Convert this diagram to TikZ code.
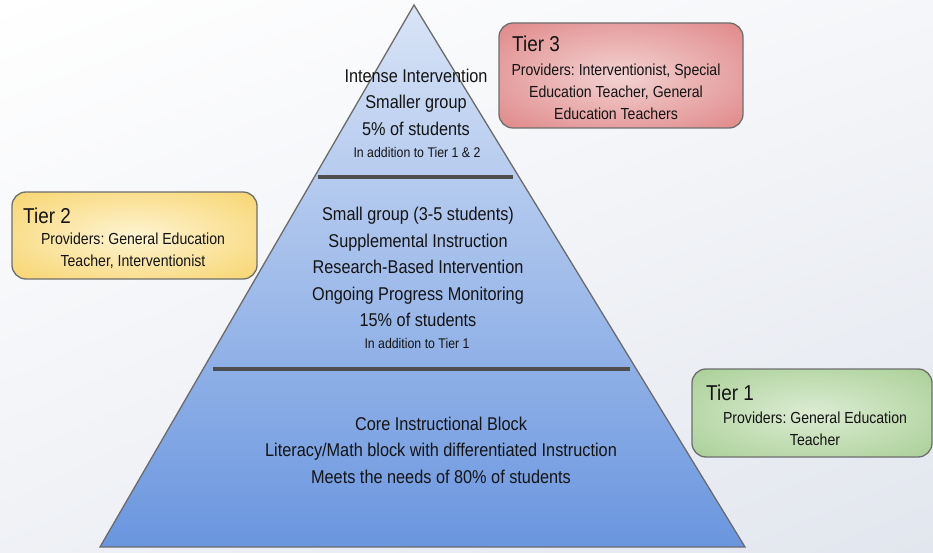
\documentclass[tikz,border=0pt]{standalone}
\usepackage{fontspec}
\setmainfont[FakeStretch=0.88]{Liberation Sans}
\usetikzlibrary{positioning,shadings}
\definecolor{txt}{HTML}{141414}
\definecolor{bgr}{HTML}{E2E6EE}
\definecolor{pyrtop}{HTML}{D9E4F6}
\definecolor{pyrbot}{HTML}{6A96DF}
\definecolor{pyrline}{HTML}{6B6B6B}
\definecolor{divline}{HTML}{4E4E4E}
\definecolor{boxline}{HTML}{6E6E6E}
\definecolor{redin}{HTML}{F3D2D2}
\definecolor{redout}{HTML}{D86A6B}
\definecolor{yelin}{HTML}{FEF4D2}
\definecolor{yelout}{HTML}{F5C848}
\definecolor{grnin}{HTML}{DCECD3}
\definecolor{grnout}{HTML}{95C47F}
\colorlet{glowin}{white}
\colorlet{glowout}{gray}
\pgfdeclareradialshading[glowin,glowout]{glow}{\pgfpointorigin}{color(0bp)=(glowin); color(50bp)=(glowout); color(100bp)=(glowout)}
\frenchspacing
\begin{document}
\begin{tikzpicture}[x=1pt, y=-1pt,
    tiertext/.style={font=\fontsize{18.5}{26.5}\selectfont, align=center, text=txt, inner sep=0pt},
    subtext/.style={font=\fontsize{14}{16}\selectfont, text=txt, inner sep=0pt},
    tierbox/.style 2 args={draw=boxline, line width=1.3pt, rounded corners=14pt, shade, shading=glow,
        /utils/exec={\colorlet{glowin}{#1}\colorlet{glowout}{#2}}, inner sep=0pt},
    boxtitle/.style={font=\fontsize{21.5}{24}\selectfont, text=txt, inner sep=0pt, anchor=base west},
    boxtext/.style={font=\fontsize{16}{22}\selectfont, align=center, text=txt, inner sep=0pt},
    divider/.style={draw=divline, line width=4pt},
]
    \shade[upper left=white, upper right=bgr!35, lower left=bgr!55, lower right=bgr] (0,0) rectangle (933,553);

    \shadedraw[top color=pyrtop, bottom color=pyrbot, draw=pyrline, line width=1.3pt] (414,5) -- (745,547) -- (100,547) -- cycle;
    \draw[divider] (318,177) -- (513,177);
    \draw[divider] (213,369) -- (630,369);

    \node[tiertext] (top) at (416,102) {Intense Intervention\\Smaller group\\5\% of students};
    \node[subtext] (topsub) at (417,152) {In addition to Tier 1 \& 2};
    \node[tiertext] (mid) at (418,267) {Small group (3-5 students)\\Supplemental Instruction\\Research-Based Intervention\\Ongoing Progress Monitoring\\15\% of students};
    \node[subtext] (midsub) at (417,343) {In addition to Tier 1};
    \node[tiertext] (base) at (441,450) {Core Instructional Block\\Literacy/Math block with differentiated Instruction\\Meets the needs of 80\% of students};

    \node[tierbox={redin}{redout}, minimum width=244pt, minimum height=105pt] (t3) at (621,75.5) {};
    \node[boxtitle] (t3h) at (512,52) {Tier 3};
    \node[boxtext] (t3b) at (616,92) {Providers: Interventionist, Special\\Education Teacher, General\\Education Teachers};

    \node[tierbox={yelin}{yelout}, minimum width=245pt, minimum height=87pt] (t2) at (134.5,235.5) {};
    \node[boxtitle] (t2h) at (23,223) {Tier 2};
    \node[boxtext] (t2b) at (133,251) {Providers: General Education\\Teacher, Interventionist};

    \node[tierbox={grnin}{grnout}, minimum width=240pt, minimum height=88pt] (t1) at (812,413) {};
    \node[boxtitle] (t1h) at (706,400) {Tier 1};
    \node[boxtext] (t1b) at (815,429) {Providers: General Education\\Teacher};
\end{tikzpicture}
\end{document}
